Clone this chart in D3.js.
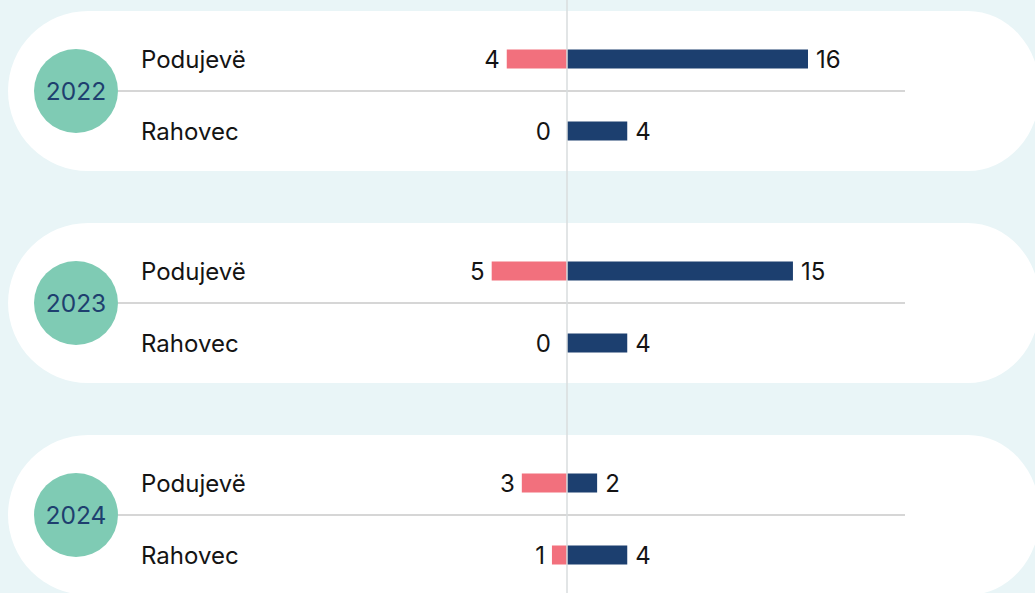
<!DOCTYPE html>
<html>
<head>
<meta charset="utf-8">
<script src="https://cdn.jsdelivr.net/npm/d3@7"></script>
<style>
  html, body { margin: 0; padding: 0; background: #e9f5f7; }
  svg { display: block; }
  text { font-family: Inter, "Noto Sans", sans-serif; }
</style>
</head>
<body>
<svg id="chart" width="1035" height="593"></svg>
<script>
const years = ["2022", "2023", "2024"];
const places = ["Podujevë", "Rahovec"];
// left (pink) values per year, per place
const pinkValues = [[4, 0], [5, 0], [3, 1]];
// right (navy) values per year, per place
const navyValues = [[16, 4], [15, 4], [2, 4]];

const W = 1035, H = 593;
const svg = d3.select("#chart");

const panelY = d3.scaleBand().domain(years).range([11, 595]).paddingInner(52 / 212).paddingOuter(0);
const rowY = d3.scaleOrdinal().domain(places).range([48, 120]);
const x = d3.scaleLinear().domain([-16, 16]).range([326, 808]);

const PH = 160;
const barH = 19;

years.forEach((yr, i) => {
  const top = panelY(yr);
  const g = svg.append("g");
  g.append("path")
    .attr("d", `M88,${top} H968 A72,80 0 0 1 968,${top + PH} H88 A80,80 0 0 1 88,${top} Z`)
    .attr("fill", "#ffffff");
  g.append("line")
    .attr("x1", 118).attr("x2", 905)
    .attr("y1", top + 80).attr("y2", top + 80)
    .attr("stroke", "#c9c9c9").attr("stroke-width", 1.5);
  g.append("circle").attr("cx", 76).attr("cy", top + 80).attr("r", 42).attr("fill", "#7fcbb4");
  g.append("text")
    .attr("x", 76).attr("y", top + 80).attr("dy", "0.36em")
    .attr("text-anchor", "middle")
    .attr("font-size", 24.5).attr("fill", "#1e3f6f")
    .text(yr);

  places.forEach((p, j) => {
    const cy = top + rowY(p);
    const pv = pinkValues[i][j];
    const nv = navyValues[i][j];
    g.append("text")
      .attr("x", 141).attr("y", cy).attr("dy", "0.36em")
      .attr("font-size", 24).attr("fill", "#141414")
      .text(p);
    g.append("rect")
      .attr("x", x(-pv)).attr("y", cy - barH / 2)
      .attr("width", x(0) - x(-pv)).attr("height", barH)
      .attr("fill", "#f2707d");
    g.append("rect")
      .attr("x", x(0)).attr("y", cy - barH / 2)
      .attr("width", x(nv) - x(0)).attr("height", barH)
      .attr("fill", "#1c3f6f");
    g.append("text")
      .attr("x", x(-pv) - 7 - (pv === 0 ? 9 : 0)).attr("y", cy).attr("dy", "0.36em")
      .attr("text-anchor", "end")
      .attr("font-size", 24).attr("fill", "#141414")
      .text(pv);
    g.append("text")
      .attr("x", x(nv) + 8).attr("y", cy).attr("dy", "0.36em")
      .attr("text-anchor", "start")
      .attr("font-size", 24).attr("fill", "#141414")
      .text(nv);
  });
});

svg.append("line")
  .attr("x1", x(0)).attr("x2", x(0))
  .attr("y1", 0).attr("y2", H)
  .attr("stroke", "#d9dcde").attr("stroke-width", 1.5);
</script>
</body>
</html>
